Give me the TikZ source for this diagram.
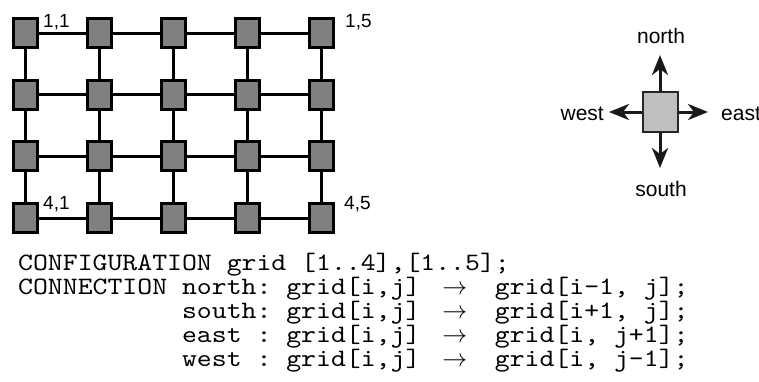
\documentclass[tikz,border=0pt]{standalone}
\usepackage{fontspec}
\setmainfont{Liberation Sans}
\newfontfamily\codefont{lmmono10-regular.otf}[FakeStretch=1.135]
\usetikzlibrary{arrows.meta}

\newcommand{\codearrow}{\rlap{\kern7pt$\rightarrow$}\phantom{xxxx}}

\begin{document}
\begin{tikzpicture}[x=1pt,y=-1pt,node distance=74pt,
  >={Stealth[length=20pt,width=16pt,inset=6pt]},
  grid node/.style={rectangle,draw=black,fill=gray,line width=3pt,inner sep=0pt,
    minimum width=24pt,minimum height=29pt},
  grid line/.style={line width=3pt,black},
  index node/.style={inner sep=0pt,font=\fontsize{19}{19}\selectfont},
  dir node/.style={rectangle,draw=black!85,fill=black!25,line width=2pt,inner sep=0pt,
    minimum width=35pt,minimum height=40pt},
  dir label/.style={inner sep=0pt,font=\fontsize{21}{21}\selectfont},
  code node/.style={inner sep=0pt,anchor=base west,font=\codefont\fontsize{25}{24}\selectfont}]

 \useasboundingbox (0,0) rectangle (759,381);

 % the 4 x 5 grid
 \node[grid node] (11) at (25,33) {};
 \node[grid node] (12) [right of=11] {};
 \node[grid node] (13) [right of=12] {};
 \node[grid node] (14) [right of=13] {};
 \node[grid node] (15) [right of=14] {};
 \node[grid node] (21) [below of=11,node distance=61.7pt] {};
 \node[grid node] (22) [right of=21] {};
 \node[grid node] (23) [right of=22] {};
 \node[grid node] (24) [right of=23] {};
 \node[grid node] (25) [right of=24] {};
 \node[grid node] (31) [below of=21,node distance=61.7pt] {};
 \node[grid node] (32) [right of=31] {};
 \node[grid node] (33) [right of=32] {};
 \node[grid node] (34) [right of=33] {};
 \node[grid node] (35) [right of=34] {};
 \node[grid node] (41) [below of=31,node distance=61.7pt] {};
 \node[grid node] (42) [right of=41] {};
 \node[grid node] (43) [right of=42] {};
 \node[grid node] (44) [right of=43] {};
 \node[grid node] (45) [right of=44] {};

 \path[grid line]
    (11) edge (12)  (12) edge (13)  (13) edge (14)  (14) edge (15)
    (21) edge (22)  (22) edge (23)  (23) edge (24)  (24) edge (25)
    (31) edge (32)  (32) edge (33)  (33) edge (34)  (34) edge (35)
    (41) edge (42)  (42) edge (43)  (43) edge (44)  (44) edge (45)
    (11) edge (21)  (21) edge (31)  (31) edge (41)
    (12) edge (22)  (22) edge (32)  (32) edge (42)
    (13) edge (23)  (23) edge (33)  (33) edge (43)
    (14) edge (24)  (24) edge (34)  (34) edge (44)
    (15) edge (25)  (25) edge (35)  (35) edge (45);

 \node[index node,anchor=base west] (i11) at (43,27) {1,1};
 \node[index node,anchor=base west] (i15) at (345,27) {1,5};
 \node[index node,anchor=base west] (i41) at (43,209) {4,1};
 \node[index node,anchor=base west] (i45) at (344,209) {4,5};

 % the four directions
 \node[dir node] (cell) at (660,112) {};
 \coordinate (n tip) at (660,55);
 \coordinate (s tip) at (660,168);
 \coordinate (w tip) at (609,112);
 \coordinate (e tip) at (708,112);
 \draw[->,line width=3pt,black!90] (cell) -- (n tip);
 \draw[->,line width=3pt,black!90] (cell) -- (s tip);
 \draw[->,line width=3pt,black!90] (cell) -- (w tip);
 \draw[->,line width=3pt,black!90] (cell) -- (e tip);

 \node[dir label,anchor=base] (l north) at (661,43) {north};
 \node[dir label,anchor=base] (l south) at (661,196) {south};
 \node[dir label,anchor=base east] (l west) at (604,120) {west};
 \node[dir label,anchor=base west] (l east) at (721,120) {east};

 % the program text
 \node[code node] (c1) at (18,270) {CONFIGURATION~grid~[1..4],[1..5];};
 \node[code node] (c2) at (18,294) {CONNECTION~north:~grid[i,j]~\codearrow grid[i-1,~j];};
 \node[code node] (c3) at (18,318) {\phantom{CONNECTION~}south:~grid[i,j]~\codearrow grid[i+1,~j];};
 \node[code node] (c4) at (18,342) {\phantom{CONNECTION~}east~:~grid[i,j]~\codearrow grid[i,~j+1];};
 \node[code node] (c5) at (18,366) {\phantom{CONNECTION~}west~:~grid[i,j]~\codearrow grid[i,~j-1];};

\end{tikzpicture}
\end{document}
